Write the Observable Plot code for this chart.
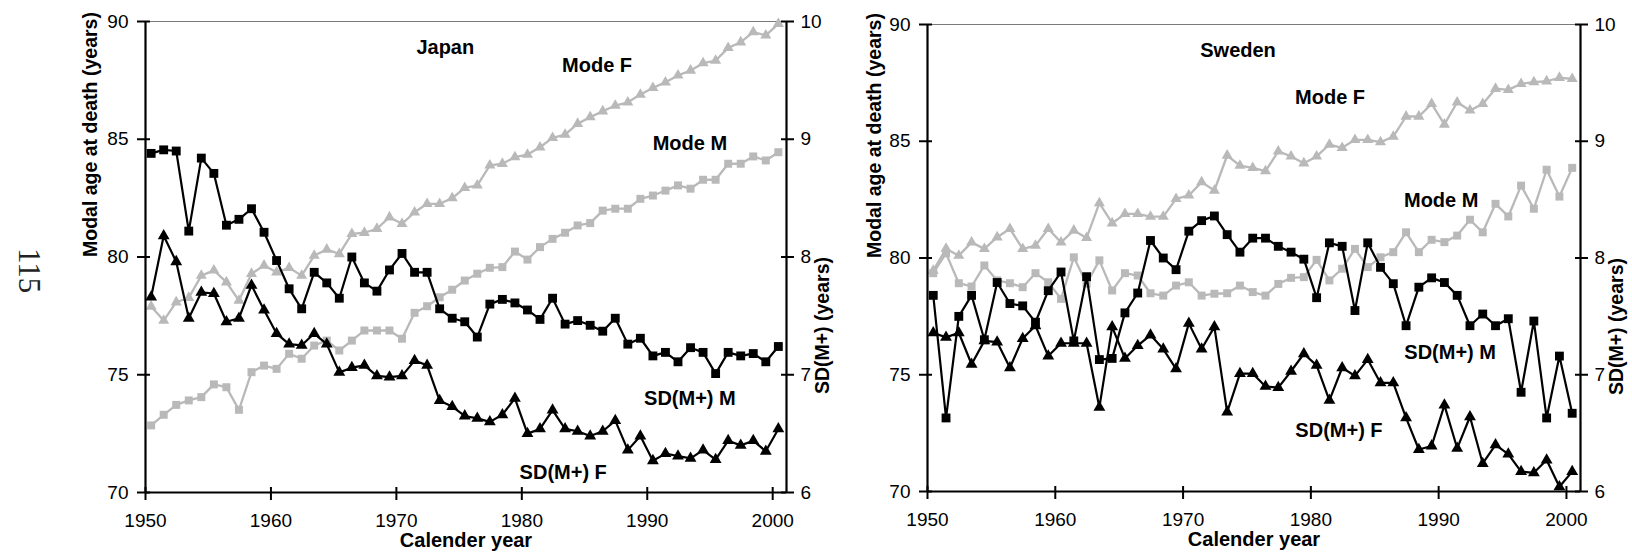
<!DOCTYPE html>
<html>
<head>
<meta charset="utf-8">
<script src="https://cdn.jsdelivr.net/npm/d3@7"></script>
<script src="https://cdn.jsdelivr.net/npm/@observablehq/plot@0.6"></script>
<style>
  html, body { margin: 0; padding: 0; background: #fff; }
  #wrap { display: flex; width: 1632px; height: 559px; overflow: hidden; }
  #wrap svg { display: block; flex: none; }
</style>
</head>
<body>
<div id="wrap"></div>
<script>
// ---------- data ----------
const years = [1950,1951,1952,1953,1954,1955,1956,1957,1958,1959,
               1960,1961,1962,1963,1964,1965,1966,1967,1968,1969,
               1970,1971,1972,1973,1974,1975,1976,1977,1978,1979,
               1980,1981,1982,1983,1984,1985,1986,1987,1988,1989,
               1990,1991,1992,1993,1994,1995,1996,1997,1998,1999,2000];

const yearTicks = [1950, 1960, 1970, 1980, 1990, 2000];
const ageTicks = [70, 75, 80, 85, 90];
const sdTicks = [6, 7, 8, 9, 10];
const ageDomain = [70, 90];
const sdDomain = [6, 10];
const xDomain = [1950, 2001.1];

// Japan: modal age at death (years)
const japanModeF = [77.9,77.3,78.08,78.27,79.21,79.43,78.93,78.15,79.29,79.64,
                    79.35,79.54,79.21,80.06,80.32,80.13,80.98,81.03,81.2,81.69,
                    81.41,81.9,82.26,82.26,82.5,82.94,83.04,83.89,83.96,84.24,
                    84.35,84.66,85.06,85.2,85.66,85.94,86.19,86.43,86.57,86.9,
                    87.18,87.42,87.71,87.92,88.23,88.34,88.88,89.12,89.55,89.41,89.9];
const japanModeM = [72.85,73.3,73.72,73.91,74.05,74.59,74.47,73.51,75.11,75.39,
                    75.25,75.89,75.68,76.24,76.45,76.03,76.45,76.88,76.88,76.88,
                    76.53,77.63,77.91,78.29,78.61,79.0,79.29,79.54,79.57,80.23,
                    79.89,80.42,80.77,81.03,81.34,81.44,81.97,82.05,82.05,82.47,
                    82.61,82.82,83.04,82.9,83.28,83.28,83.96,83.96,84.27,84.1,84.45];
// Japan: SD(M+) (years)
const japanSdM = [8.88,8.91,8.90,8.22,8.84,8.71,8.27,8.32,8.41,8.21,
                  7.97,7.73,7.56,7.87,7.78,7.65,8.00,7.78,7.71,7.89,
                  8.03,7.87,7.87,7.56,7.48,7.45,7.32,7.60,7.64,7.61,
                  7.55,7.47,7.65,7.43,7.46,7.42,7.37,7.48,7.26,7.31,
                  7.16,7.19,7.11,7.23,7.19,7.01,7.19,7.16,7.18,7.11,7.24];
const japanSdF = [7.66,8.18,7.96,7.48,7.70,7.69,7.45,7.48,7.76,7.55,
                  7.35,7.26,7.25,7.35,7.26,7.02,7.06,7.08,6.99,6.98,
                  6.99,7.12,7.08,6.78,6.73,6.65,6.63,6.60,6.66,6.80,
                  6.50,6.54,6.70,6.54,6.52,6.48,6.52,6.61,6.36,6.48,
                  6.27,6.33,6.31,6.29,6.36,6.28,6.44,6.40,6.44,6.35,6.54];

// Sweden: modal age at death (years)
const swedenModeF = [79.46,80.4,80.1,80.67,80.39,80.89,81.25,80.39,80.53,81.25,
                     80.67,81.18,80.86,82.35,81.49,81.89,81.89,81.77,81.77,82.53,
                     82.68,83.25,82.89,84.39,83.96,83.86,83.72,84.57,84.35,84.06,
                     84.35,84.86,84.72,85.06,85.06,84.96,85.2,86.06,86.06,86.6,
                     85.72,86.67,86.32,86.6,87.25,87.2,87.46,87.53,87.57,87.72,87.67];
const swedenModeM = [79.35,80.2,78.92,78.78,79.68,79.04,78.92,78.75,79.35,78.96,
                     78.25,80.03,78.9,79.9,78.61,79.35,79.25,78.49,78.39,78.82,
                     78.96,78.39,78.47,78.49,78.82,78.54,78.39,78.89,79.15,79.18,
                     79.92,79.04,79.54,80.39,79.61,80.03,80.25,81.1,80.25,80.78,
                     80.68,80.96,81.64,81.1,82.32,81.78,83.1,82.11,83.78,82.63,83.86];
// Sweden: SD(M+) (years)
const swedenSdM = [7.68,6.63,7.50,7.68,7.30,7.79,7.61,7.59,7.45,7.72,
                   7.88,7.29,7.84,7.13,7.14,7.53,7.70,8.15,8.00,7.90,
                   8.23,8.32,8.36,8.20,8.05,8.17,8.17,8.10,8.05,7.99,
                   7.66,8.13,8.10,7.55,8.13,7.92,7.78,7.42,7.75,7.83,
                   7.79,7.68,7.42,7.52,7.42,7.48,6.85,7.46,6.63,7.16,6.67];
const swedenSdF = [7.36,7.32,7.36,7.09,7.29,7.28,7.06,7.31,7.42,7.16,
                   7.27,7.27,7.27,6.72,7.41,7.14,7.25,7.34,7.22,7.05,
                   7.44,7.22,7.41,6.68,7.01,7.01,6.90,6.89,7.03,7.18,
                   7.08,6.78,7.06,6.99,7.13,6.93,6.93,6.63,6.36,6.39,
                   6.74,6.37,6.64,6.24,6.40,6.32,6.17,6.16,6.27,6.04,6.17];

// annotation labels (anchored in data units: year, modal age)
const japanLabels = [
  {text: "Japan", year: 1973.9, value: 88.9},
  {text: "Mode F", year: 1986.0, value: 88.13},
  {text: "Mode M", year: 1993.4, value: 84.82},
  {text: "SD(M+) M", year: 1993.4, value: 73.99},
  {text: "SD(M+) F", year: 1983.3, value: 70.85}
];
const swedenLabels = [
  {text: "Sweden", year: 1974.3, value: 88.89},
  {text: "Mode F", year: 1981.5, value: 86.87},
  {text: "Mode M", year: 1990.2, value: 82.46},
  {text: "SD(M+) M", year: 1990.9, value: 75.95},
  {text: "SD(M+) F", year: 1982.2, value: 72.61}
];

const leftTitle = "Modal age at death (years)";
const rightTitle = "SD(M+) (years)";
const xTitle = "Calender year";
const pageNumber = "115";

// ---------- drawing ----------
const gray = "#b9b9b9";
const sans = "'Liberation Sans', Arial, Helvetica, sans-serif";

function panel(cfg) {
  const H = 559;
  const innerW = cfg.width - cfg.marginLeft - cfg.marginRight;
  const innerH = H - cfg.marginTop - cfg.marginBottom;
  const k = (ageDomain[1] - ageDomain[0]) / (sdDomain[1] - sdDomain[0]);
  const sdToAge = sd => ageDomain[0] + (sd - sdDomain[0]) * k;
  const ageToSd = a => sdDomain[0] + (a - ageDomain[0]) / k;
  const rows = arr => years.map((year, i) => ({year, value: arr[i]}));
  const X = d => d.year + 0.45;
  const Ysd = d => sdToAge(d.value);
  const mF = rows(cfg.modeF), mM = rows(cfg.modeM), sM = rows(cfg.sdM), sF = rows(cfg.sdF);

  return Plot.plot({
    width: cfg.width,
    height: H,
    marginLeft: cfg.marginLeft,
    marginRight: cfg.marginRight,
    marginTop: cfg.marginTop,
    marginBottom: cfg.marginBottom,
    x: {domain: xDomain},
    y: {domain: ageDomain},
    style: {fontFamily: sans, fontSize: "19px", background: "#fff", color: "#000", overflow: "visible"},
    marks: [
      Plot.ruleY([ageDomain[1]], {stroke: "#7a7a7a", strokeWidth: 1.2}),
      // gray: modal ages
      Plot.line(mF, {x: X, y: "value", stroke: gray, strokeWidth: 2.3}),
      Plot.dot(mF, {x: X, y: "value", symbol: "triangle", r: 4.1, fill: gray, stroke: "none"}),
      Plot.line(mM, {x: X, y: "value", stroke: gray, strokeWidth: 2.3}),
      Plot.dot(mM, {x: X, y: "value", symbol: "square", r: 4.5, fill: gray, stroke: "none"}),
      // black: SD(M+) on secondary axis
      Plot.line(sM, {x: X, y: Ysd, stroke: "#000", strokeWidth: 2.2}),
      Plot.dot(sM, {x: X, y: Ysd, symbol: "square", r: 5, fill: "#000", stroke: "none"}),
      Plot.line(sF, {x: X, y: Ysd, stroke: "#000", strokeWidth: 2.2}),
      Plot.dot(sF, {x: X, y: Ysd, symbol: "triangle", r: 4.4, fill: "#000", stroke: "none"}),
      // frame lines
      Plot.ruleX([xDomain[0]], {stroke: "#000", strokeWidth: 2.2}),
      Plot.ruleX([xDomain[1]], {stroke: "#000", strokeWidth: 2.2}),
      Plot.ruleY([ageDomain[0]], {stroke: "#000", strokeWidth: 2.2}),
      // tick marks crossing the axes
      Plot.tickY(ageTicks, {y: d => d, insetLeft: -8, insetRight: innerW - 5, stroke: "#000", strokeWidth: 2}),
      Plot.tickY(sdTicks, {y: sdToAge, insetLeft: innerW - 5, insetRight: -8, stroke: "#000", strokeWidth: 2}),
      Plot.tickX(yearTicks, {x: d => d, insetTop: innerH - 5, insetBottom: -8, stroke: "#000", strokeWidth: 2}),
      // axis labels
      Plot.axisY({ticks: ageTicks, anchor: "left", tickSize: 0, tickPadding: 17, label: null, fontSize: 19, tickFormat: d => String(d)}),
      Plot.axisY({ticks: sdTicks.map(sdToAge), anchor: "right", tickSize: 0, tickPadding: 14, label: null, fontSize: 19,
                  tickFormat: a => String(Math.round(ageToSd(a)))}),
      Plot.axisX({ticks: yearTicks, anchor: "bottom", tickSize: 0, tickPadding: 21, label: null, fontSize: 19, tickFormat: d => String(d)}),
      // titles
      Plot.text([leftTitle], {text: d => d, frameAnchor: "left", rotate: -90, dx: cfg.leftDx, fontWeight: "bold", fontSize: 19.5}),
      Plot.text([rightTitle], {text: d => d, frameAnchor: "right", rotate: -90, dx: 36, fontWeight: "bold", fontSize: 19.5}),
      Plot.text([xTitle], {text: d => d, frameAnchor: "bottom", dy: 54, fontWeight: "bold", fontSize: 20}),
      // series / country labels
      Plot.text(cfg.labels, {x: "year", y: "value", text: "text", fontWeight: "bold", fontSize: 20}),
      ...(cfg.extra || [])
    ]
  });
}

const wrap = document.getElementById("wrap");
wrap.append(panel({
  width: 840, marginLeft: 145, marginRight: 54, marginTop: 21, marginBottom: 67, leftDx: -55,
  modeF: japanModeF, modeM: japanModeM, sdM: japanSdM, sdF: japanSdF, labels: japanLabels,
  extra: [Plot.text([pageNumber], {text: d => d, frameAnchor: "left", dx: -117, dy: -9, rotate: 90,
    fontFamily: "'Liberation Serif', 'DejaVu Serif', serif", fontSize: 31, fill: "#222"})]
}));
wrap.append(panel({
  width: 792, marginLeft: 87, marginRight: 52, marginTop: 24, marginBottom: 68, leftDx: -53,
  modeF: swedenModeF, modeM: swedenModeM, sdM: swedenSdM, sdF: swedenSdF, labels: swedenLabels
}));
</script>
</body>
</html>
